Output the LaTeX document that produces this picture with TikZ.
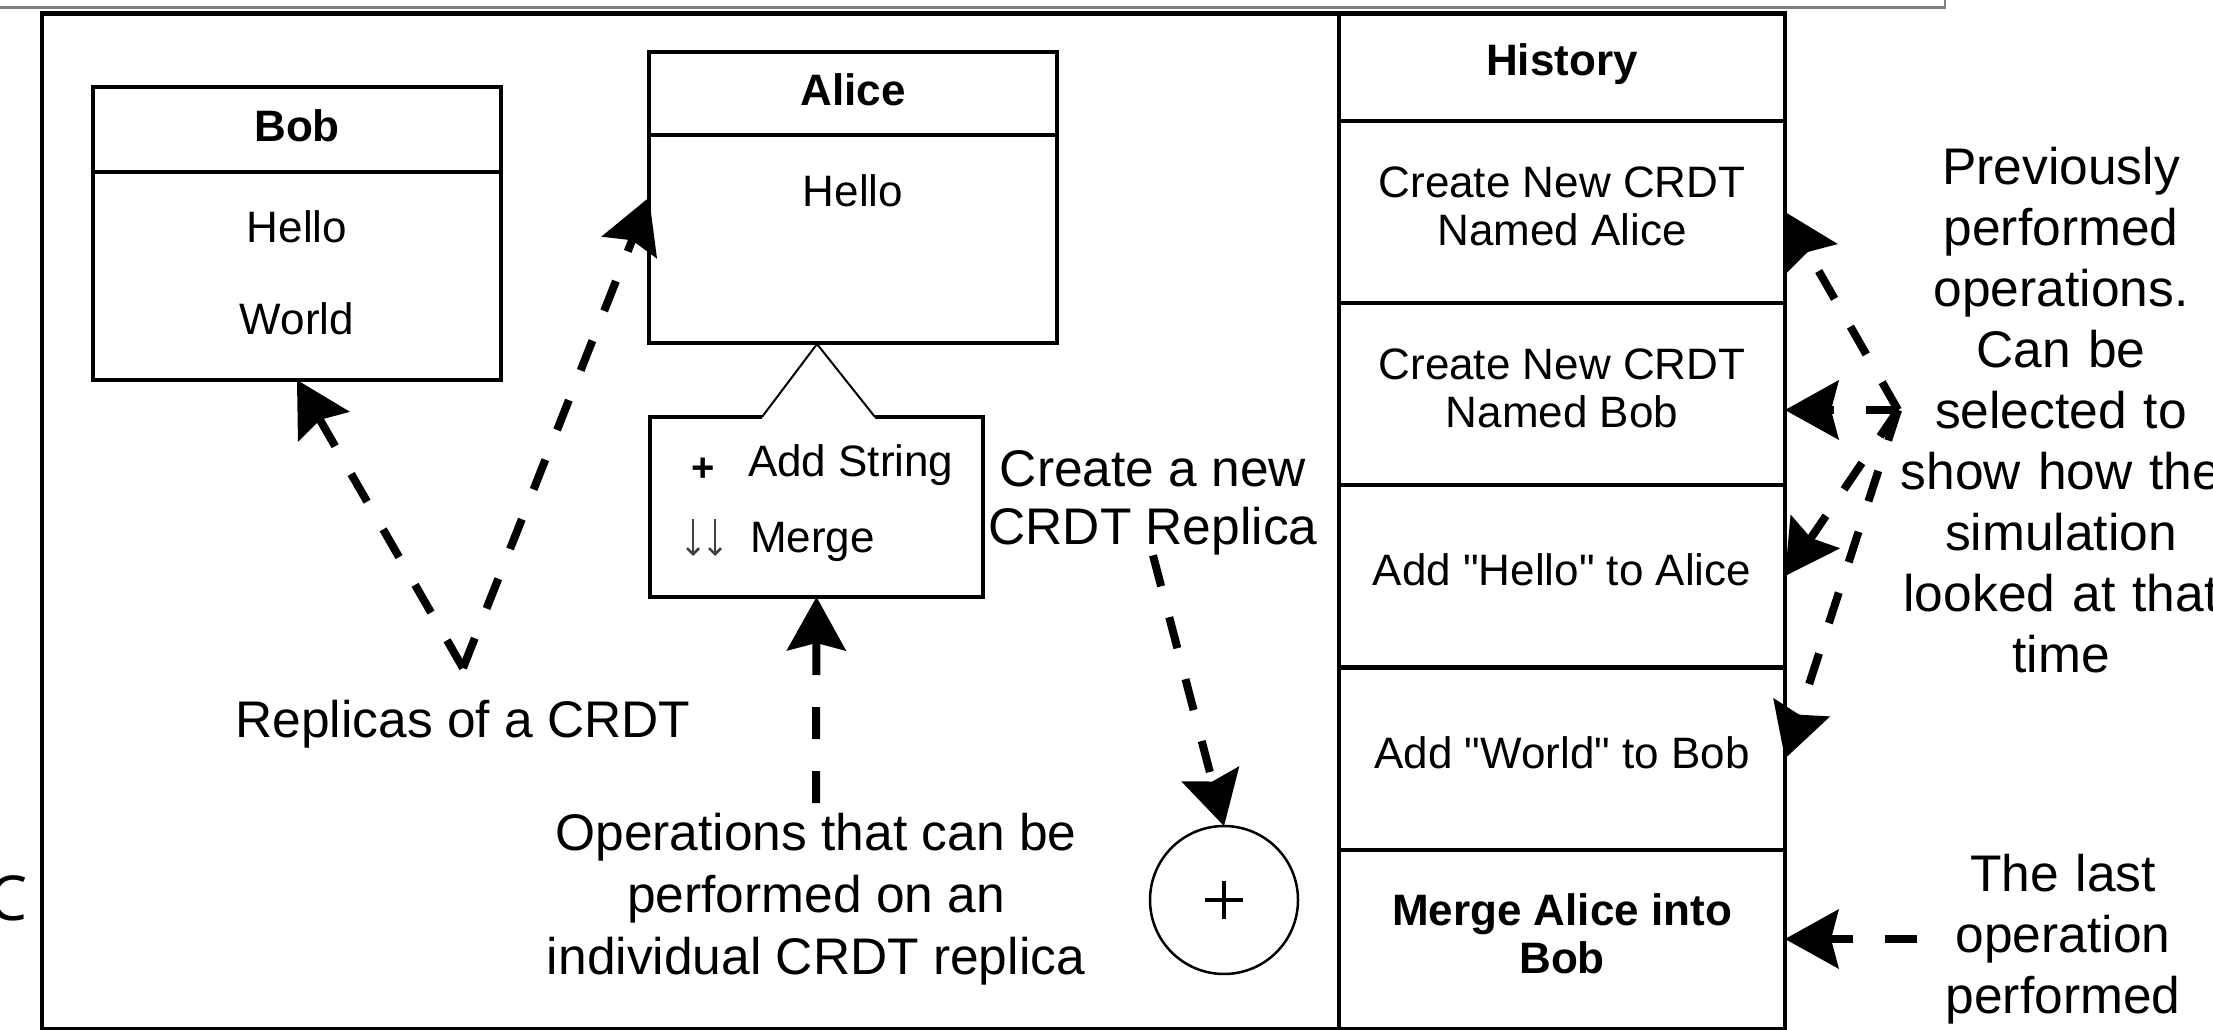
\documentclass[tikz,border=0pt]{standalone}
\usepackage{fontspec}
\setmainfont{Liberation Sans}
\newfontfamily\opensans{Open Sans}
\usetikzlibrary{arrows.meta}

\begin{document}
\begin{tikzpicture}[x=1pt, y=-1pt,
  every node/.style={inner sep=0pt, outer sep=0pt},
  boxtext/.style={font=\fontsize{44}{48}\selectfont, align=center},
  boldtext/.style={font=\fontsize{44}{48}\selectfont\bfseries, align=center},
  note/.style={font=\fontsize{51.5}{61}\selectfont, align=center},
  frame/.style={draw, line width=4.5pt},
  cell/.style={draw, line width=4pt, minimum width=446pt, minimum height=182pt, text depth=12pt},
  replica/.style={draw, line width=4pt, fill=white, minimum width=408pt, minimum height=292pt},
  hint/.style={line width=8pt, dash pattern=on 32pt off 32pt,
    -{Stealth[length=54pt, width=60pt, inset=8pt, line width=0pt]}},
  icon/.style={line width=2.5pt, black!75, -{Straight Barb[length=6pt, width=12pt]}},
]
\useasboundingbox (0,0) rectangle (2213,1030);
\clip (0,0) rectangle (2213,1030);

% edge of the panel above and a letter cut off at the left border
\draw[black!50, line width=2.5pt] (0,7.3) -- (1945,7.3) -- (1945,-2);
\node[anchor=base east, font=\opensans\fontsize{62}{62}\selectfont] (cutletter) at (28,920) {C};

% outer frame of the simulator
\draw[frame] (42,13.3) rectangle (1785,1029);

% history column
\node[cell, minimum height=108pt, boldtext, text depth=14pt] (h0) at (1562,67) {History};
\node[cell, boxtext] (h1) at (1562,212) {Create New CRDT\\Named Alice};
\node[cell, boxtext] (h2) at (1562,394) {Create New CRDT\\Named Bob};
\node[cell, boxtext] (h3) at (1562,576) {Add \textquotedbl Hello\textquotedbl\ to Alice};
\node[cell, boxtext] (h4) at (1562,758.5) {Add \textquotedbl World\textquotedbl\ to Bob};
\node[cell, minimum height=179pt, boldtext] (h5) at (1562,939.5) {Merge Alice into\\Bob};

% replica Bob
\node[replica, minimum height=292.5pt] (bob) at (297,233.75) {};
\draw[line width=4pt] (93,172) -- (501,172);
\node[boldtext] (bobname) at (297,126) {Bob};
\node[boxtext] (bobv1) at (297,227) {Hello};
\node[boxtext] (bobv2) at (297,319) {World};

% replica Alice
\node[replica, minimum height=291pt] (alice) at (853,197.5) {};
\draw[line width=4pt] (649,135.5) -- (1057,135.5);
\node[boldtext] (alicename) at (853,90) {Alice};
\node[boxtext] (alicev1) at (853,191) {Hello};

% operations callout under Alice
\node[minimum width=333pt, minimum height=180pt] (callout) at (816.5,507) {};
\draw[line width=3.3pt] (762,417) -- (650,417) -- (650,597) -- (983,597) -- (983,417) -- (875,417);
\draw[line width=2pt] (762,417) -- (817,344) -- (875,417);
\node[font=\bfseries\fontsize{40}{40}\selectfont] (iconadd) at (703,470) {+};
\node[anchor=west, boxtext] (opadd) at (748,465) {Add String};
\draw[icon] (693,519) -- (693,556);
\draw[icon] (715,519) -- (715,556);
\node[anchor=west, boxtext] (opmerge) at (750,542) {Merge};

% new replica button
\node[circle, draw, line width=2.5pt, minimum size=148pt] (newreplica) at (1224,900) {};
\draw[line width=3.5pt] ([xshift=-19pt]newreplica.center) -- ([xshift=19pt]newreplica.center);
\draw[line width=3.5pt] ([yshift=-19pt]newreplica.center) -- ([yshift=19pt]newreplica.center);

% annotations
\node[note, minimum height=112pt] (replicas) at (463,724) {Replicas of a CRDT};
\node[note, font=\fontsize{51.5}{62}\selectfont, minimum height=192pt] (ops) at (816,899)
  {Operations that can be\\performed on an\\individual CRDT replica};
\node[note, font=\fontsize{51.5}{58}\selectfont] (createnew) at (1153,503) {Create a new\\CRDT Replica};
\node[note, text width=326pt] (prev) at (2061,410)
  {Previously\\performed\\operations.\\Can be\\selected to\\show how the\\simulation\\looked at that\\time};
\node[note, text width=292pt] (last) at (2063,939) {The last\\operation\\performed};

% connectors
\draw[hint] (replicas.north) -- (bob.south);
\draw[hint] (replicas.north) -- (alice.west);
\draw[hint] (ops.north) -- (callout.south);
\draw[hint] (createnew.south) -- (newreplica.north);
\draw[hint] (prev.west) -- (h1.east);
\draw[hint] (prev.west) -- (prev.west -| h2.east);
\draw[hint] (prev.west) -- (h3.east);
\draw[hint] (prev.west) -- (h4.east);
\draw[hint] (last.west) -- (last.west -| h5.east);
\end{tikzpicture}
\end{document}
